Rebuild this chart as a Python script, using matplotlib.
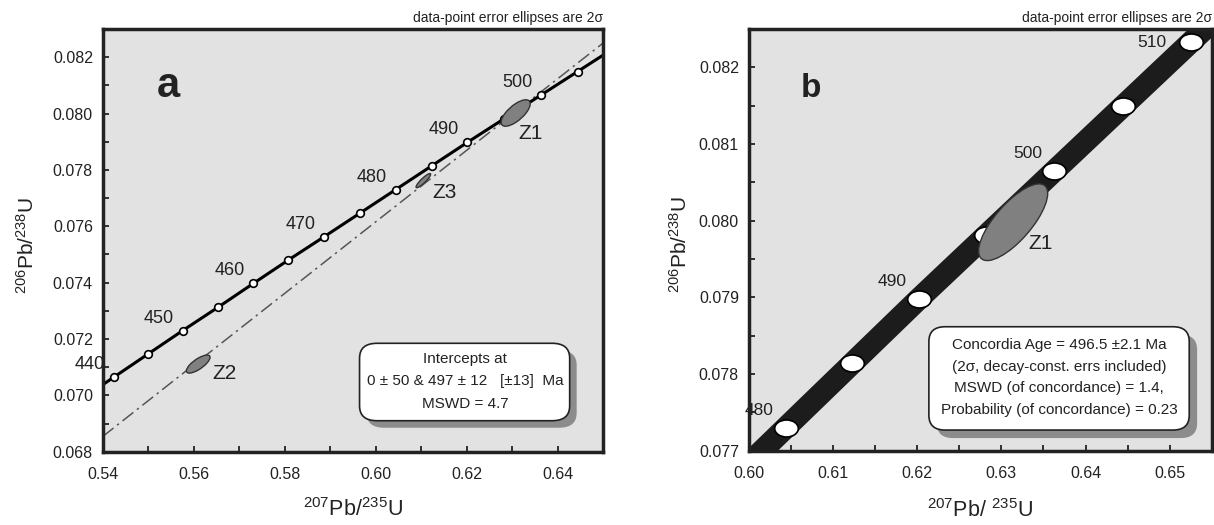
import numpy as np
import matplotlib.pyplot as plt
from matplotlib.patches import Ellipse, FancyBboxPatch
from matplotlib.path import Path
from matplotlib.transforms import Affine2D
from matplotlib.ticker import MultipleLocator, FormatStrFormatter

plt.rcParams['font.family'] = ['Liberation Sans', 'DejaVu Sans']
plt.rcParams['mathtext.fontset'] = 'custom'
plt.rcParams['mathtext.rm'] = 'Liberation Sans'
plt.rcParams['mathtext.it'] = 'Liberation Sans:italic'
plt.rcParams['mathtext.bf'] = 'Liberation Sans:bold'

# Punti della concordia (età in Ma)
eta = [435, 440, 445, 450, 455, 460, 465, 470, 475, 480, 485, 490, 495, 500, 505, 510, 515]
conc_x = [0.5348, 0.5424, 0.5500, 0.5576, 0.5654, 0.5731, 0.5808, 0.5887, 0.5966,
          0.6044, 0.6123, 0.6202, 0.6282, 0.6363, 0.6444, 0.6525, 0.6606]
conc_y = [0.06981, 0.07064, 0.07147, 0.07230, 0.07313, 0.07397, 0.07480, 0.07563, 0.07647,
          0.07730, 0.07814, 0.07898, 0.07981, 0.08065, 0.08149, 0.08233, 0.08317]
etichette_a = [440, 450, 460, 470, 480, 490, 500]
etichette_b = [480, 490, 500, 510]

# Discordia (retta tra le due intercette)
disc_x = [0.54, 0.65]
disc_y = [0.06854, 0.08250]

# Zirconi del pannello a: centro, errori 2 sigma e correlazione
zirc_nomi = ['Z1', 'Z2', 'Z3']
zirc_x = [0.6308, 0.5610, 0.6105]
zirc_y = [0.08002, 0.07111, 0.07762]
zirc_sx = [0.0032, 0.0026, 0.0016]
zirc_sy = [0.00047, 0.00032, 0.00025]
zirc_rho = [0.70, 0.75, 0.90]

# Z1 nel pannello b (ingrandito)
z1b_x = 0.6314
z1b_y = 0.07998
z1b_sx = 0.0041
z1b_sy = 0.00050
z1b_rho = 0.75

testo_a = ['Intercepts at', '0 \u00b1 50 & 497 \u00b1 12   [\u00b113]  Ma', 'MSWD = 4.7']
testo_b = ['Concordia Age = 496.5 \u00b12.1 Ma', '(2\u03c3, decay-const. errs included)',
           'MSWD (of concordance) = 1.4,', 'Probability (of concordance) = 0.23']

scuro = '#222222'


def ellisse(ax, x, y, sx, sy, rho, **kw):
    cov = np.array([[sx**2, rho * sx * sy], [rho * sx * sy, sy**2]])
    val, vec = np.linalg.eigh(cov)
    ang = np.degrees(np.arctan2(vec[1, 1], vec[0, 1]))
    ax.add_patch(Ellipse((x, y), 2 * np.sqrt(val[1]), 2 * np.sqrt(val[0]), angle=ang, **kw))


def stile(ax):
    ax.set_facecolor('#e2e2e2')
    for s in ax.spines.values():
        s.set_linewidth(2.5)
        s.set_color(scuro)
    ax.tick_params(which='both', direction='in', length=4, width=1.3, color=scuro,
                   labelsize=11.5, labelcolor=scuro)
    ax.tick_params(axis='y', pad=7)
    ax.tick_params(axis='x', pad=11)
    ax.text(1.0, 1.026, 'data-point error ellipses are 2\u03c3', transform=ax.transAxes,
            ha='right', va='center', fontsize=10, color=scuro)


def riquadro(ax, x0, y0, w, h, dx, dy, righe, xc, ys):
    ombra = FancyBboxPatch((x0 + dx, y0 - dy), w, h, boxstyle='round,pad=0,rounding_size=0.035',
                           transform=ax.transAxes, fc='#8c8c8c', ec='none', zorder=4)
    box = FancyBboxPatch((x0, y0), w, h, boxstyle='round,pad=0,rounding_size=0.035',
                         transform=ax.transAxes, fc='white', ec=scuro, lw=1.2, zorder=4.1)
    ax.add_patch(ombra)
    ax.add_patch(box)
    for r, yy in zip(righe, ys):
        ax.text(xc, yy, r, transform=ax.transAxes, ha='center', va='center',
                fontsize=11, color=scuro, zorder=4.2)


fig = plt.figure(figsize=(12.14, 5.25), dpi=100)
ax1 = fig.add_axes([0.0846, 0.1396, 0.4121, 0.8051])
ax2 = fig.add_axes([0.6167, 0.1415, 0.3816, 0.8032])

# ---- pannello a ----
stile(ax1)
ax1.plot(disc_x, disc_y, color='#555555', lw=1.1, ls=(0, (9, 3, 1.5, 3)), zorder=1.5)
ax1.plot(conc_x, conc_y, color='black', lw=2.2, zorder=2)
ax1.plot(conc_x, conc_y, ls='none', marker='o', ms=5.5, mfc='white', mec='black', mew=1.2, zorder=2.1)
for e in etichette_a:
    i = eta.index(e)
    ax1.annotate(str(e), (conc_x[i], conc_y[i]), xytext=(-17, 9), textcoords='offset points',
                 ha='center', va='center', fontsize=13, color=scuro, zorder=2.2, annotation_clip=False)
offs_a = [(10.5, -14.8), (18.7, -6.5), (15, -8.5)]
for k in range(3):
    ellisse(ax1, zirc_x[k], zirc_y[k], zirc_sx[k], zirc_sy[k], zirc_rho[k],
            fc='#808080', ec='#333333', lw=1.0, zorder=2.3)
    ax1.annotate(zirc_nomi[k], (zirc_x[k], zirc_y[k]), xytext=offs_a[k], textcoords='offset points',
                 ha='center', va='center', fontsize=15, color=scuro, zorder=2.3)
ax1.set_xlim(0.54, 0.65)
ax1.set_ylim(0.068, 0.0830)
ax1.xaxis.set_major_locator(MultipleLocator(0.02))
ax1.xaxis.set_minor_locator(MultipleLocator(0.01))
ax1.yaxis.set_major_locator(MultipleLocator(0.002))
ax1.yaxis.set_minor_locator(MultipleLocator(0.001))
ax1.xaxis.set_major_formatter(FormatStrFormatter('%.2f'))
ax1.yaxis.set_major_formatter(FormatStrFormatter('%.3f'))
ax1.text(0.131, 0.839, 'a', transform=ax1.transAxes, ha='center', va='baseline',
         fontsize=30, fontweight='bold', color=scuro)
riquadro(ax1, 0.5134, 0.0733, 0.42, 0.1832, 0.014, 0.0166, testo_a, 0.7238, [0.2193, 0.168, 0.1128])
ax1.text(-0.151, 0.489, '$^{206}$Pb/$^{238}$U', transform=ax1.transAxes, rotation=90,
         ha='center', va='center', fontsize=15, color=scuro)
ax1.text(0.5, -0.138, '$^{207}$Pb/$^{235}$U', transform=ax1.transAxes,
         ha='center', va='center', fontsize=15.5, color=scuro)

# ---- pannello b ----
stile(ax2)
ax2.plot(conc_x, conc_y, color='#1c1c1c', lw=16, solid_capstyle='butt', zorder=2)
ovale = Path.unit_circle().transformed(Affine2D().scale(1.0, 0.72))
ax2.plot(conc_x, conc_y, ls='none', marker=ovale, ms=17, mfc='white', mec='black', mew=1.2, zorder=2.1)
for e in etichette_b:
    i = eta.index(e)
    off = (-28, 0) if e == 510 else (-19.5, 12.5)
    ax2.annotate(str(e), (conc_x[i], conc_y[i]), xytext=off, textcoords='offset points',
                 ha='center', va='center', fontsize=12.5, color=scuro, zorder=2.2, annotation_clip=False)
ellisse(ax2, z1b_x, z1b_y, z1b_sx, z1b_sy, z1b_rho, fc='#808080', ec='#333333', lw=1.0, zorder=2.3)
ax2.annotate('Z1', (z1b_x, z1b_y), xytext=(19.4, -15.5), textcoords='offset points',
             ha='center', va='center', fontsize=15, color=scuro, zorder=2.3)
ax2.set_xlim(0.60, 0.655)
ax2.set_ylim(0.077, 0.0825)
ax2.xaxis.set_major_locator(MultipleLocator(0.01))
ax2.xaxis.set_minor_locator(MultipleLocator(0.005))
ax2.yaxis.set_major_locator(MultipleLocator(0.001))
ax2.yaxis.set_minor_locator(MultipleLocator(0.0005))
ax2.xaxis.set_major_formatter(FormatStrFormatter('%.2f'))
ax2.yaxis.set_major_formatter(FormatStrFormatter('%.3f'))
ax2.text(0.135, 0.839, 'b', transform=ax2.transAxes, ha='center', va='baseline',
         fontsize=24, fontweight='bold', color=scuro)
riquadro(ax2, 0.389, 0.049, 0.562, 0.245, 0.017, 0.019, testo_b, 0.670, [0.2507, 0.1992, 0.1480, 0.0965])
ax2.text(-0.148, 0.489, '$^{206}$Pb/$^{238}$U', transform=ax2.transAxes, rotation=90,
         ha='center', va='center', fontsize=15, color=scuro)
ax2.text(0.5, -0.141, '$^{207}$Pb/ $^{235}$U', transform=ax2.transAxes,
         ha='center', va='center', fontsize=15.5, color=scuro)

fig.savefig('out.png', dpi=100)
